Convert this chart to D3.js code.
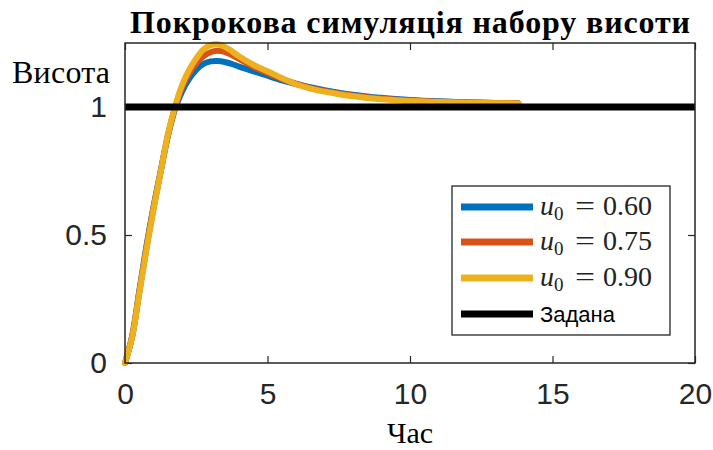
<!DOCTYPE html>
<html>
<head>
<meta charset="utf-8">
<script src="https://cdn.jsdelivr.net/npm/d3@7"></script>
<style>
  html, body { margin: 0; padding: 0; background: #fff; }
  svg { display: block; }
</style>
</head>
<body>
<svg id="chart" width="713" height="450"></svg>
<script>
// Time samples (s) shared by all three responses
const time = [0, 0.25, 0.5, 0.75, 1, 1.25, 1.5, 1.75, 2, 2.25, 2.5, 2.75, 3, 3.25, 3.5, 3.75,
  4, 4.5, 5, 5.5, 6, 6.5, 7, 7.5, 8, 8.5, 9, 9.5, 10, 11, 12, 13, 13.8];

// Altitude response for each initial control value u0
const heightU060 = [0, 0.105, 0.28, 0.455, 0.61, 0.75, 0.885, 0.99, 1.06, 1.11, 1.145, 1.168, 1.178, 1.18, 1.176, 1.168,
  1.158, 1.14, 1.122, 1.104, 1.09, 1.077, 1.066, 1.056, 1.048, 1.041, 1.036, 1.031, 1.027, 1.022, 1.019, 1.016, 1.015];
const heightU075 = [0, 0.102, 0.275, 0.447, 0.605, 0.745, 0.885, 0.995, 1.075, 1.13, 1.17, 1.198, 1.214, 1.22, 1.215, 1.203,
  1.188, 1.158, 1.133, 1.11, 1.091, 1.075, 1.063, 1.053, 1.045, 1.038, 1.033, 1.029, 1.025, 1.021, 1.018, 1.016, 1.015];
const heightU090 = [0, 0.10, 0.27, 0.44, 0.60, 0.745, 0.89, 1.0, 1.085, 1.145, 1.19, 1.225, 1.242, 1.245, 1.235, 1.218,
  1.198, 1.165, 1.14, 1.113, 1.089, 1.072, 1.06, 1.05, 1.042, 1.035, 1.03, 1.026, 1.023, 1.02, 1.017, 1.015, 1.014];

// Setpoint altitude
const setpoint = 1;

const seriesLabels = ["0.60", "0.75", "0.90"];
const seriesColors = ["#0072BD", "#D95319", "#EDB120"];
const xTicks = [0, 5, 10, 15, 20];
const yTicks = [0, 0.5, 1];

const series = [heightU060, heightU075, heightU090].map((vals, i) => ({
  label: seriesLabels[i],
  color: seriesColors[i],
  points: time.map((t, k) => [t, vals[k]])
}));

const svg = d3.select("#chart");
const plotLeft = 125, plotRight = 695, plotTop = 43, plotBottom = 363;

const x = d3.scaleLinear().domain([0, 20]).range([plotLeft, plotRight]);
const y = d3.scaleLinear().domain([0, 1.25]).range([plotBottom, plotTop]);

svg.append("rect").attr("width", 713).attr("height", 450).attr("fill", "#fff");

const axisColor = "#262626";
const tickFont = "'Liberation Sans', Arial, sans-serif";
const serifFont = "'Liberation Serif', 'Times New Roman', serif";

// Bottom axis with labels
const gx = svg.append("g").attr("transform", `translate(0,${plotBottom})`)
  .call(d3.axisBottom(x).tickValues(xTicks).tickSizeInner(-7).tickSizeOuter(0).tickPadding(20));
// Left axis with labels
const gy = svg.append("g").attr("transform", `translate(${plotLeft},0)`)
  .call(d3.axisLeft(y).tickValues(yTicks).tickSizeInner(-7).tickSizeOuter(0).tickPadding(18)
    .tickFormat(d => d === 0 ? "0" : d === 1 ? "1" : d3.format(".1f")(d)));
// Top and right axes: ticks only (boxed axes)
const gt = svg.append("g").attr("transform", `translate(0,${plotTop})`)
  .call(d3.axisTop(x).tickValues(xTicks).tickSizeInner(-7).tickSizeOuter(0).tickFormat(""));
const gr = svg.append("g").attr("transform", `translate(${plotRight},0)`)
  .call(d3.axisRight(y).tickValues(yTicks).tickSizeInner(-7).tickSizeOuter(0).tickFormat(""));

[gx, gy, gt, gr].forEach(g => {
  g.select(".domain").remove();
  g.selectAll(".tick line").attr("stroke", axisColor).attr("stroke-width", 1.2);
  g.selectAll(".tick text").attr("fill", "#262626").style("font-family", tickFont).style("font-size", "30px");
});

// Series curves
const line = d3.line().x(d => x(d[0])).y(d => y(d[1])).curve(d3.curveCatmullRom.alpha(0.5));
const plot = svg.append("g");
series.forEach(s => {
  plot.append("path").datum(s.points)
    .attr("fill", "none").attr("stroke", s.color).attr("stroke-width", 6)
    .attr("stroke-linejoin", "round").attr("stroke-linecap", "round")
    .attr("d", line);
});

// Setpoint line
plot.append("line")
  .attr("x1", x(0)).attr("x2", x(20)).attr("y1", y(setpoint)).attr("y2", y(setpoint))
  .attr("stroke", "#000").attr("stroke-width", 7);

// Plot box
svg.append("rect").attr("x", plotLeft).attr("y", plotTop)
  .attr("width", plotRight - plotLeft).attr("height", plotBottom - plotTop)
  .attr("fill", "none").attr("stroke", axisColor).attr("stroke-width", 1.5);

// Title and axis labels
svg.append("text").attr("x", (plotLeft + plotRight) / 2).attr("y", 33).attr("text-anchor", "middle")
  .style("font-family", serifFont).style("font-weight", "bold")
  .style("font-size", "32px").attr("fill", "#000")
  .attr("textLength", 560).attr("lengthAdjust", "spacing")
  .text("Покрокова симуляція набору висоти");
svg.append("text").attr("x", 12).attr("y", 83)
  .style("font-family", serifFont).style("font-size", "32px").attr("fill", "#000")
  .attr("textLength", 98).attr("lengthAdjust", "spacing")
  .text("Висота");
svg.append("text").attr("x", (plotLeft + plotRight) / 2).attr("y", 443).attr("text-anchor", "middle")
  .style("font-family", serifFont).style("font-size", "30px").attr("fill", "#000")
  .text("Час");

// Legend
const legend = svg.append("g");
legend.append("rect").attr("x", 452).attr("y", 186).attr("width", 218).attr("height", 149)
  .attr("fill", "#fff").attr("stroke", axisColor).attr("stroke-width", 1.3);
const rowY = [207, 242, 278, 314];
series.forEach((s, i) => {
  legend.append("line").attr("x1", 461).attr("x2", 533).attr("y1", rowY[i]).attr("y2", rowY[i])
    .attr("stroke", s.color).attr("stroke-width", 7);
  const t = legend.append("text").attr("y", rowY[i] + 8)
    .style("font-family", serifFont).style("font-size", "28px").attr("fill", "#222");
  t.append("tspan").attr("x", 540).style("font-style", "italic").text("u");
  t.append("tspan").attr("x", 554).attr("dy", 5).style("font-size", "19px").text("0");
  t.append("tspan").attr("x", 575).attr("dy", -5).attr("textLength", 20).attr("lengthAdjust", "spacingAndGlyphs").text("=");
  t.append("tspan").attr("x", 603).text(s.label);
});
legend.append("line").attr("x1", 461).attr("x2", 533).attr("y1", rowY[3]).attr("y2", rowY[3])
  .attr("stroke", "#000").attr("stroke-width", 7);
legend.append("text").attr("x", 540).attr("y", rowY[3] + 8)
  .style("font-family", tickFont).style("font-size", "22px").attr("fill", "#000")
  .text("Задана");
</script>
</body>
</html>
